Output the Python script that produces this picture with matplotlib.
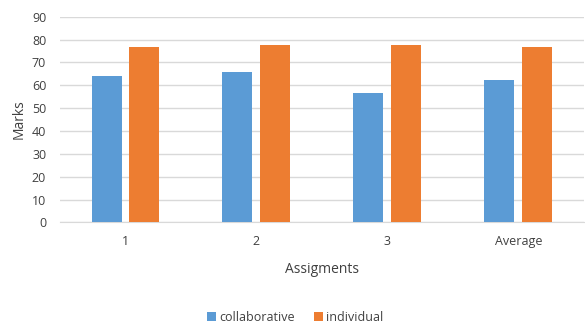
import numpy as np
import matplotlib.pyplot as plt

categories = ["1", "2", "3", "Average"]
collaborative = [64.0, 66.0, 56.8, 62.3]
individual = [76.8, 77.6, 77.6, 76.8]

plt.rcParams['font.family'] = ['Open Sans', 'DejaVu Sans']

fig = plt.figure(figsize=(5.85, 3.27), dpi=100)
ax = fig.add_axes([0.1026, 0.320, 0.8954, 0.629])

x = np.arange(len(categories))
width = 0.229
off = 0.145
ax.bar(x - off, collaborative, width, color='#5B9BD5', label='collaborative', zorder=3)
ax.bar(x + off, individual, width, color='#ED7D31', label='individual', zorder=3)

ax.set_xlim(-0.5, len(categories) - 0.5)
ax.set_ylim(0, 90)
ax.set_yticks(range(0, 91, 10))
ax.set_xticks(x)
ax.set_xticklabels(categories)
ax.grid(axis='y', color='#D9D9D9', linewidth=1, zorder=0)
for s in ['top', 'right', 'left']:
    ax.spines[s].set_visible(False)
ax.spines['bottom'].set_color('#D9D9D9')
ax.tick_params(axis='both', length=0, labelsize=9, colors='#404040')
ax.tick_params(axis='x', pad=9)
ax.tick_params(axis='y', pad=10)
ax.set_ylabel("Marks", fontsize=10, color='#404040', labelpad=4)
ax.set_xlabel("Assigments", fontsize=10, color='#404040', labelpad=10)

fig.legend(loc='lower center', bbox_to_anchor=(0.505, -0.025), ncol=2, frameon=False,
           fontsize=9, handlelength=0.7, handleheight=0.7, handletextpad=0.3,
           columnspacing=1.5, labelcolor='#404040')

fig.savefig("out.png", dpi=100)
